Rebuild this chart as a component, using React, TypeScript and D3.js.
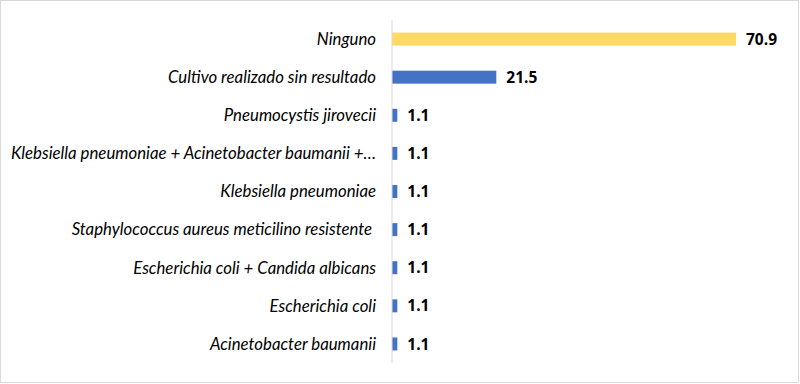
import React from "react";
import * as d3 from "d3";

const categories = [
  "Ninguno",
  "Cultivo realizado sin resultado",
  "Pneumocystis jirovecii",
  "Klebsiella pneumoniae + Acinetobacter baumanii +…",
  "Klebsiella pneumoniae",
  "Staphylococcus aureus meticilino resistente ",
  "Escherichia coli + Candida albicans",
  "Escherichia coli",
  "Acinetobacter baumanii",
];
const values = [70.9, 21.5, 1.1, 1.1, 1.1, 1.1, 1.1, 1.1, 1.1];
const valueLabels = ["70.9", "21.5", "1.1", "1.1", "1.1", "1.1", "1.1", "1.1", "1.1"];
const colors = ["#FFD966", "#4472C4", "#4472C4", "#4472C4", "#4472C4", "#4472C4", "#4472C4", "#4472C4", "#4472C4"];

const W = 800;
const H = 384;
const margin = { top: 20, right: 60, bottom: 21, left: 392 };
const font = "Lato, 'Open Sans', sans-serif";
const valueFont = "'Open Sans', Lato, sans-serif";

export default function App() {
  const x = d3
    .scaleLinear()
    .domain([0, 70.9])
    .range([margin.left, margin.left + 344]);

  const y = d3
    .scaleBand()
    .domain(categories)
    .range([margin.top, H - margin.bottom])
    .paddingInner(0.66)
    .paddingOuter(0.33);

  return (
    <svg
      width={W}
      height={H}
      style={{ position: "absolute", left: 0, top: 0, background: "#fff" }}
    >
      <rect x={0.5} y={0.5} width={W - 2} height={H - 2} fill="#fff" stroke="#d9d9d9" />
      {categories.map((c, i) => {
        const yc = y(c)! + y.bandwidth() / 2;
        return (
          <g key={c}>
            <rect
              x={x(0)}
              y={y(c)}
              width={x(values[i]) - x(0)}
              height={y.bandwidth()}
              fill={colors[i]}
            />
            <text
              x={376}
              y={yc}
              dy="0.35em"
              textAnchor="end"
              fontFamily={font}
              fontStyle="italic"
              fontSize={16.8}
              fill="#000"
              style={{ whiteSpace: "pre" }}
            >
              {c}
            </text>
            <text
              x={x(values[i]) + 10}
              y={yc}
              dy="0.36em"
              fontFamily={valueFont}
              fontWeight="bold"
              fontSize={15.5}
              fill="#000"
            >
              {valueLabels[i]}
            </text>
          </g>
        );
      })}
      <line x1={x(0)} x2={x(0)} y1={margin.top} y2={H - margin.bottom} stroke="#d9d9d9" />
    </svg>
  );
}
